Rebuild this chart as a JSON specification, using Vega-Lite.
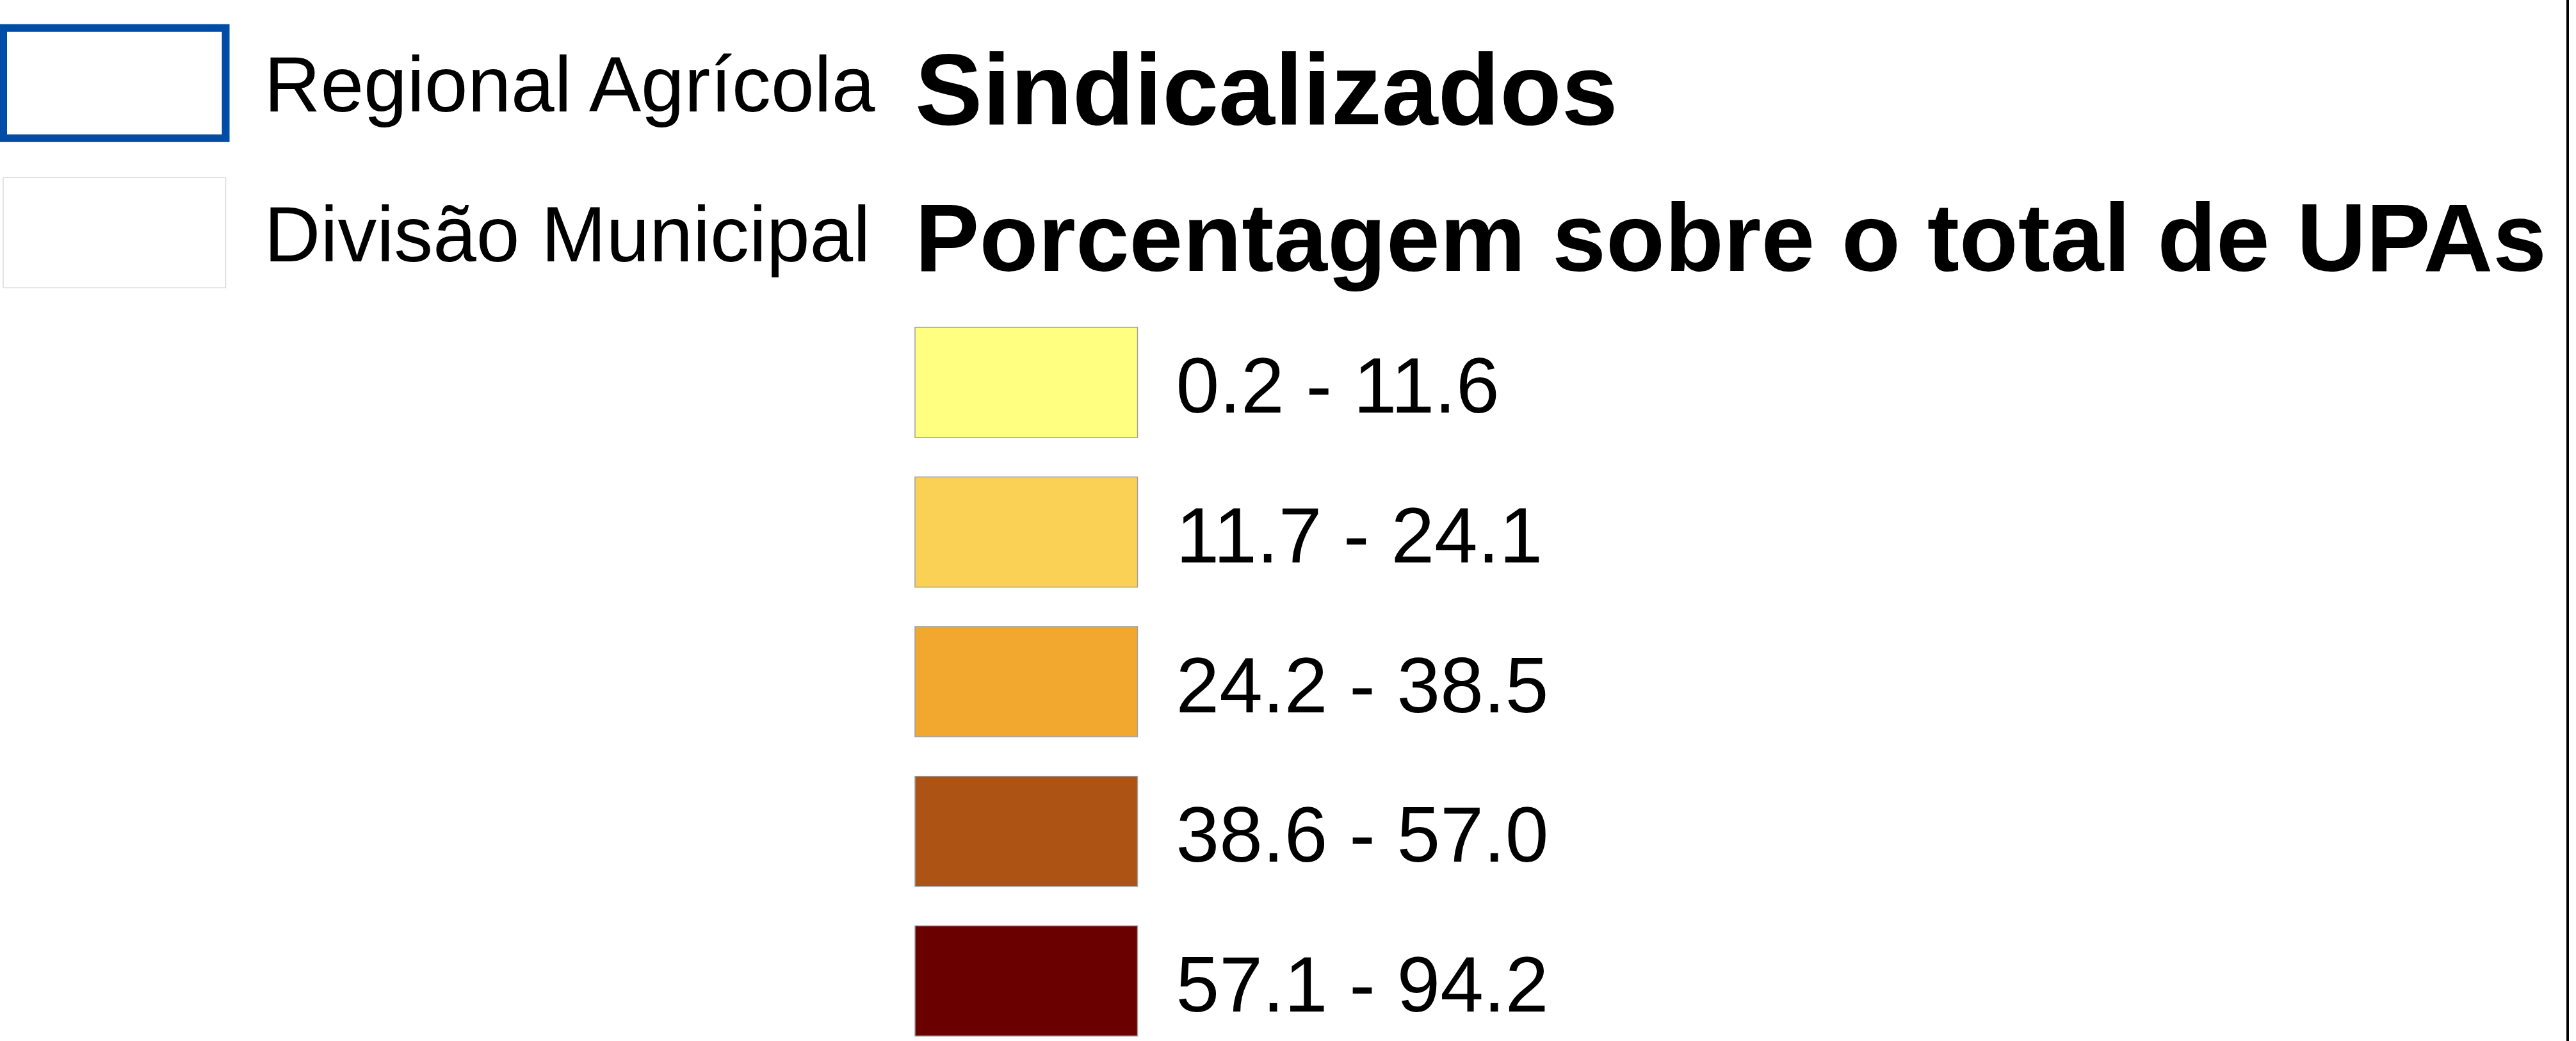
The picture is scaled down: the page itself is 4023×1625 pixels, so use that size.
{
  "$schema": "https://vega.github.io/schema/vega-lite/v6.json",
  "width": 4030,
  "height": 1665,
  "autosize": {"type": "none"},
  "padding": {"left": -20, "top": -20, "right": 13, "bottom": -20},
  "background": "#ffffff",
  "config": {
    "view": {"stroke": "#000000", "strokeWidth": 4, "fill": "#ffffff"},
    "font": "Liberation Sans",
    "text": {"font": "Liberation Sans"}
  },
  "datasets": {
    "camadas": [
      {"camada": "Regional Agrícola", "grupo": "Limites"},
      {"camada": "Divisão Municipal", "grupo": "Limites"}
    ],
    "titulos": [
      {"texto": "Sindicalizados", "grupo": "Sindicalizados"},
      {"texto": "Porcentagem sobre o total de UPAs", "grupo": "Sindicalizados"}
    ],
    "classes": [
      {"faixa": "0.2 - 11.6", "grupo": "Sindicalizados"},
      {"faixa": "11.7 - 24.1", "grupo": "Sindicalizados"},
      {"faixa": "24.2 - 38.5", "grupo": "Sindicalizados"},
      {"faixa": "38.6 - 57.0", "grupo": "Sindicalizados"},
      {"faixa": "57.1 - 94.2", "grupo": "Sindicalizados"}
    ]
  },
  "resolve": {"scale": {"y": "independent"}},
  "layer": [
    {
      "data": {"name": "camadas"},
      "mark": {"type": "rect", "fill": "#ffffff"},
      "encoding": {
        "x": {"field": "grupo", "type": "nominal", "axis": null,
              "scale": {"type": "band", "domain": ["Limites", "Sindicalizados"], "paddingInner": 0.75597, "paddingOuter": 0.793015, "align": 0.011069}},
        "y": {"field": "camada", "type": "nominal", "axis": null,
              "scale": {"type": "band", "domain": ["Regional Agrícola", "Divisão Municipal", "0.2 - 11.6", "11.7 - 24.1", "24.2 - 38.5", "38.6 - 57.0", "57.1 - 94.2"], "paddingInner": 0.2637, "paddingOuter": 0.195635, "align": 0.69694}},
        "stroke": {"field": "camada", "type": "nominal", "legend": null,
                   "scale": {"domain": ["Regional Agrícola", "Divisão Municipal"], "range": ["#004DA8", "#DADADA"]}},
        "strokeWidth": {"field": "camada", "type": "nominal", "legend": null,
                        "scale": {"type": "ordinal", "domain": ["Regional Agrícola", "Divisão Municipal"], "range": [12, 1.5]}}
      }
    },
    {
      "data": {"name": "camadas"},
      "mark": {"type": "text", "align": "left", "baseline": "alphabetic", "dx": 407.5, "dy": 44.6, "fontSize": 121.7, "color": "#000000"},
      "encoding": {
        "x": {"field": "grupo", "type": "nominal", "axis": null, "bandPosition": 0,
              "scale": {"type": "band", "domain": ["Limites", "Sindicalizados"], "paddingInner": 0.75597, "paddingOuter": 0.793015, "align": 0.011069}},
        "y": {"field": "camada", "type": "nominal", "axis": null, "bandPosition": 0.5,
              "scale": {"type": "band", "domain": ["Regional Agrícola", "Divisão Municipal", "0.2 - 11.6", "11.7 - 24.1", "24.2 - 38.5", "38.6 - 57.0", "57.1 - 94.2"], "paddingInner": 0.2637, "paddingOuter": 0.195635, "align": 0.69694}},
        "text": {"field": "camada"}
      }
    },
    {
      "data": {"name": "titulos"},
      "transform": [{"filter": "datum.texto === 'Sindicalizados'"}],
      "mark": {"type": "text", "align": "left", "baseline": "alphabetic", "dy": 63.8, "fontSize": 158, "fontWeight": "bold", "color": "#000000"},
      "encoding": {
        "x": {"field": "grupo", "type": "nominal", "axis": null, "bandPosition": 0,
              "scale": {"type": "band", "domain": ["Limites", "Sindicalizados"], "paddingInner": 0.75597, "paddingOuter": 0.793015, "align": 0.011069}},
        "y": {"field": "texto", "type": "nominal", "axis": null, "bandPosition": 0.5,
              "scale": {"type": "band", "domain": ["Sindicalizados", "Porcentagem sobre o total de UPAs", "0.2 - 11.6", "11.7 - 24.1", "24.2 - 38.5", "38.6 - 57.0", "57.1 - 94.2"], "paddingInner": 0.2637, "paddingOuter": 0.195635, "align": 0.69694}},
        "text": {"field": "texto"}
      }
    },
    {
      "data": {"name": "titulos"},
      "transform": [{"filter": "datum.texto !== 'Sindicalizados'"}],
      "mark": {"type": "text", "align": "left", "baseline": "alphabetic", "dy": 60, "fontSize": 150.5, "fontWeight": "bold", "color": "#000000"},
      "encoding": {
        "x": {"field": "grupo", "type": "nominal", "axis": null, "bandPosition": 0,
              "scale": {"type": "band", "domain": ["Limites", "Sindicalizados"], "paddingInner": 0.75597, "paddingOuter": 0.793015, "align": 0.011069}},
        "y": {"field": "texto", "type": "nominal", "axis": null, "bandPosition": 0.5,
              "scale": {"type": "band", "domain": ["Sindicalizados", "Porcentagem sobre o total de UPAs", "0.2 - 11.6", "11.7 - 24.1", "24.2 - 38.5", "38.6 - 57.0", "57.1 - 94.2"], "paddingInner": 0.2637, "paddingOuter": 0.195635, "align": 0.69694}},
        "text": {"field": "texto"}
      }
    },
    {
      "data": {"name": "classes"},
      "mark": {"type": "rect", "stroke": "#A0A0A0", "strokeWidth": 1.5},
      "encoding": {
        "x": {"field": "grupo", "type": "nominal", "axis": null,
              "scale": {"type": "band", "domain": ["Limites", "Sindicalizados"], "paddingInner": 0.75597, "paddingOuter": 0.793015, "align": 0.011069}},
        "y": {"field": "faixa", "type": "nominal", "axis": null,
              "scale": {"type": "band", "domain": ["Regional Agrícola", "Divisão Municipal", "0.2 - 11.6", "11.7 - 24.1", "24.2 - 38.5", "38.6 - 57.0", "57.1 - 94.2"], "paddingInner": 0.2637, "paddingOuter": 0.195635, "align": 0.69694}},
        "fill": {"field": "faixa", "type": "nominal", "legend": null,
                 "scale": {"domain": ["0.2 - 11.6", "11.7 - 24.1", "24.2 - 38.5", "38.6 - 57.0", "57.1 - 94.2"], "range": ["#FFFF80", "#FAD155", "#F2A72E", "#AD5313", "#6B0000"]}}
      }
    },
    {
      "data": {"name": "classes"},
      "mark": {"type": "text", "align": "left", "baseline": "alphabetic", "dx": 407.5, "dy": 47.5, "fontSize": 121.7, "color": "#000000"},
      "encoding": {
        "x": {"field": "grupo", "type": "nominal", "axis": null, "bandPosition": 0,
              "scale": {"type": "band", "domain": ["Limites", "Sindicalizados"], "paddingInner": 0.75597, "paddingOuter": 0.793015, "align": 0.011069}},
        "y": {"field": "faixa", "type": "nominal", "axis": null, "bandPosition": 0.5,
              "scale": {"type": "band", "domain": ["Regional Agrícola", "Divisão Municipal", "0.2 - 11.6", "11.7 - 24.1", "24.2 - 38.5", "38.6 - 57.0", "57.1 - 94.2"], "paddingInner": 0.2637, "paddingOuter": 0.195635, "align": 0.69694}},
        "text": {"field": "faixa"}
      }
    }
  ]
}
